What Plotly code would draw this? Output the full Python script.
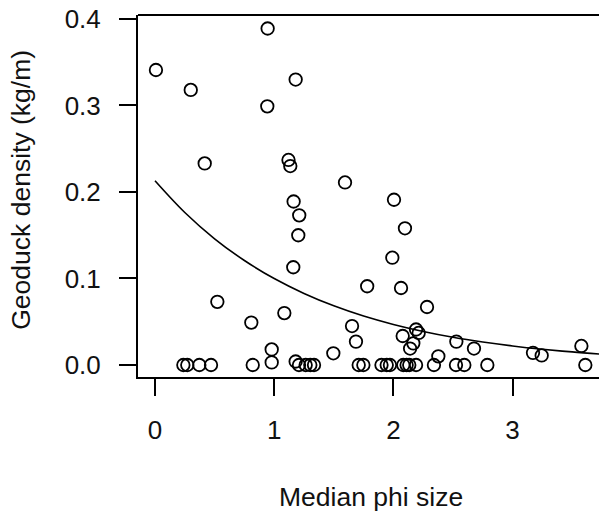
import plotly.graph_objects as go

# Observed points (median phi size, geoduck density kg/m)
phi = [0.945, 0.008, 0.30, 1.18, 0.942, 0.417, 1.12, 1.135, 1.594,
       1.163, 1.21, 1.202, 1.16, 1.78, 0.523, 1.085, 0.808, 1.653, 1.686,
       0.979, 1.496,
       0.238, 0.271, 0.372, 0.47, 0.82, 0.979, 1.18, 1.208, 1.264, 1.303, 1.334,
       1.709, 1.748,
       2.005, 2.097, 1.991, 2.064, 2.282, 2.19, 2.212, 2.078, 2.167, 2.14,
       2.528, 2.676, 2.377, 3.171, 3.244, 3.577, 3.61,
       1.90, 1.944, 1.971, 2.083, 2.111, 2.133, 2.19, 2.34, 2.525, 2.595, 2.788]
density = [0.389, 0.341, 0.318, 0.330, 0.299, 0.233, 0.237, 0.230, 0.211,
           0.189, 0.173, 0.150, 0.113, 0.091, 0.073, 0.060, 0.049, 0.045, 0.027,
           0.018, 0.0135,
           0.0, 0.0, 0.0, 0.0, 0.0, 0.003, 0.004, 0.0, 0.0, 0.0, 0.0,
           0.0, 0.0,
           0.191, 0.158, 0.124, 0.089, 0.067, 0.041, 0.037, 0.0335, 0.025, 0.019,
           0.027, 0.019, 0.010, 0.014, 0.011, 0.022, 0.0,
           0.0, 0.0, 0.0, 0.0, 0.0, 0.0, 0.0, 0.0, 0.0, 0.0, 0.0]

# Fitted curve values
curve_x = [0, 0.25, 0.5, 0.75, 1.0, 1.25, 1.5, 1.75, 2.0, 2.25, 2.5, 2.75,
           3.0, 3.25, 3.5, 3.75]
curve_y = [0.213, 0.1763, 0.1459, 0.1208, 0.0999, 0.0827, 0.0684, 0.0566,
           0.0469, 0.0388, 0.0321, 0.0266, 0.0220, 0.0182, 0.0151, 0.0125]

x_ticks = [0, 1, 2, 3]
y_ticks = [0.0, 0.1, 0.2, 0.3, 0.4]
y_tick_labels = ["0.0", "0.1", "0.2", "0.3", "0.4"]

FONT = "Liberation Sans, Arial, sans-serif"

fig = go.Figure()
fig.add_trace(go.Scatter(x=curve_x, y=curve_y, mode="lines",
                         line=dict(color="black", width=1.6, shape="spline"),
                         hoverinfo="skip", showlegend=False))
fig.add_trace(go.Scatter(x=phi, y=density, mode="markers",
                         marker=dict(symbol="circle-open", size=12.5,
                                     color="black", line=dict(width=1.8)),
                         showlegend=False))

fig.update_layout(
    width=599, height=513,
    margin=dict(l=138, r=0, t=15, b=136),
    paper_bgcolor="white", plot_bgcolor="white",
    font=dict(family=FONT, size=26, color="#111111"),
    xaxis=dict(range=[-0.1426, 3.7248], tickvals=x_ticks, ticks="outside",
               ticklen=17, tickwidth=1.8, tickcolor="black",
               showline=True, linecolor="black", linewidth=2, mirror=False,
               showgrid=False, zeroline=False, ticklabelstandoff=12,
               tickfont=dict(size=26)),
    yaxis=dict(range=[-0.0139, 0.4046], tickvals=y_ticks, ticktext=y_tick_labels,
               ticks="outside", ticklen=17, tickwidth=1.8, tickcolor="black",
               showline=True, linecolor="black", linewidth=2, mirror=False,
               showgrid=False, zeroline=False, ticklabelstandoff=13,
               tickfont=dict(size=26)),
    shapes=[dict(type="line", xref="paper", yref="paper", x0=0, x1=1, y0=1, y1=1,
                 line=dict(color="black", width=2))],
    annotations=[
        dict(text="Median phi size", xref="paper", yref="paper", x=0.505, y=-0.331,
             xanchor="center", yanchor="middle", showarrow=False,
             font=dict(size=26.5)),
        dict(text="Geoduck density (kg/m)", xref="paper", yref="paper", x=-0.254,
             y=0.517, xanchor="center", yanchor="middle", textangle=-90,
             showarrow=False, font=dict(size=26.5)),
    ],
)

fig.write_html("out.html", config={"displayModeBar": False},
               post_script="document.body.style.margin='0';document.body.style.overflow='hidden';")
